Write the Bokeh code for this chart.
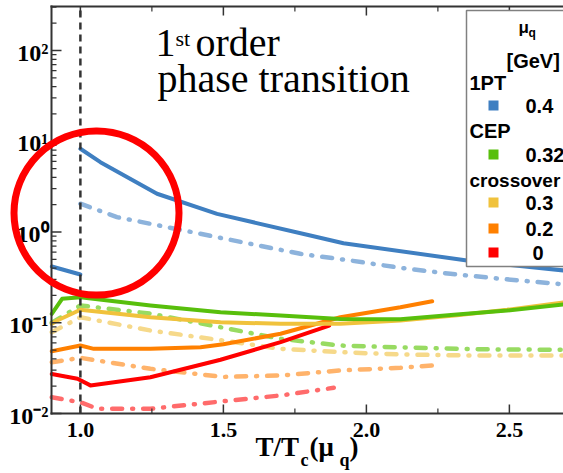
import math
from bokeh.plotting import figure
from bokeh.models import Range1d, Label, BoxAnnotation
from bokeh.core.properties import value
from bokeh.embed import file_html
from bokeh.resources import INLINE

W, H = 563, 473

# ---------------- data ----------------
x_ticks = [1.0, 1.5, 2.0, 2.5]
x_minor_ticks = [1.25, 1.75, 2.25]
x_tick_labels = ["1.0", "1.5", "2.0", "2.5"]
y_ticks = [0.01, 0.1, 1, 10, 100]
y_tick_labels = ["10⁻²", "10⁻¹", "10⁰", "10¹", "10²"]

# 1PT, mu_q = 0.4 GeV
blue_below_x = [0.90, 1.0]
blue_below_y = [0.417, 0.34]
blue_solid_x = [1.0, 1.07, 1.268, 1.478, 1.804, 1.92, 2.352, 2.69]
blue_solid_y = [8.26, 5.88, 2.64, 1.585, 0.914, 0.753, 0.485, 0.377]
blue_dd_x = [1.0, 1.128, 1.361, 1.594, 1.769, 1.944, 2.119, 2.294, 2.469, 2.69]
blue_dd_y = [2.05, 1.46, 1.04, 0.741, 0.575, 0.485, 0.403, 0.346, 0.305, 0.265]

# CEP, mu_q = 0.32 GeV
green_solid_x = [0.90, 0.936, 1.0, 1.245, 1.49, 1.70, 1.909, 2.119, 2.317, 2.492, 2.69]
green_solid_y = [0.1256, 0.1836, 0.191, 0.155, 0.1306, 0.120, 0.110, 0.109, 0.1235, 0.1365, 0.159]
green_dd_x = [0.90, 1.0, 1.245, 1.49, 1.70, 1.909, 2.119, 2.40, 2.69]
green_dd_y = [0.100, 0.155, 0.126, 0.0893, 0.0665, 0.0561, 0.0535, 0.051, 0.0503]

# crossover, mu_q = 0.3 GeV
yellow_solid_x = [0.90, 0.919, 1.0, 1.245, 1.49, 1.70, 1.909, 2.119, 2.317, 2.492, 2.69]
yellow_solid_y = [0.0973, 0.106, 0.139, 0.115, 0.1014, 0.0973, 0.0973, 0.106, 0.121, 0.139, 0.168]
yellow_dd_x = [0.90, 1.0, 1.245, 1.50, 1.70, 1.909, 2.119, 2.40, 2.69]
yellow_dd_y = [0.0787, 0.115, 0.0822, 0.0637, 0.0516, 0.0474, 0.0447, 0.0435, 0.0437]

# crossover, mu_q = 0.2 GeV
orange_solid_x = [0.90, 1.0, 1.047, 1.245, 1.42, 1.50, 1.70, 1.909, 2.119, 2.23]
orange_solid_y = [0.0485, 0.0561, 0.0516, 0.0516, 0.0538, 0.058, 0.0756, 0.115, 0.148, 0.1727]
orange_dd_x = [0.90, 1.0, 1.245, 1.50, 1.70, 1.909, 2.119, 2.23]
orange_dd_y = [0.0367, 0.0411, 0.0311, 0.0253, 0.0262, 0.0298, 0.0319, 0.0338]

# crossover, mu_q = 0 GeV
red_solid_x = [0.90, 0.99, 1.035, 1.245, 1.49, 1.70, 1.87]
red_solid_y = [0.0273, 0.0241, 0.0204, 0.0251, 0.0391, 0.0611, 0.093]
red_dd_x = [0.90, 1.0, 1.06, 1.245, 1.524, 1.70, 1.886]
red_dd_y = [0.0151, 0.0133, 0.01127, 0.01127, 0.0139, 0.0158, 0.0192]

legend_groups = ["1PT", "CEP", "crossover"]
legend_values = ["0.4", "0.32", "0.3", "0.2", "0"]
T_c_location = 1.0

# axis extents (data units)
AX_X0, AX_Y0, AX_Y1 = 0.899, 0.01, 305.0

# ---------------- geometry & styles ----------------
PX_PER_X = 286.0          # pixels per unit of T/Tc
PX_PER_DEC = 90.75        # pixels per decade
AX_LEFT_PX, AX_BOTTOM_PX = 51, 413
X0 = AX_X0 - AX_LEFT_PX / PX_PER_X
X1 = AX_X0 + (W - AX_LEFT_PX) / PX_PER_X
Y0 = AX_Y0 * 10 ** (-(H - AX_BOTTOM_PX) / PX_PER_DEC)
Y1 = AX_Y0 * 10 ** (AX_BOTTOM_PX / PX_PER_DEC)

C_AX = "#333333"
C_BLUE, C_BLUE_L = "#3f7fc1", "#8db3dc"
C_GREEN, C_GREEN_L = "#58bf0c", "#98db62"
C_YEL, C_YEL_L = "#f0c23c", "#f6d98a"
C_ORA, C_ORA_L = "#ff8000", "#ffb36b"
C_RED, C_RED_L = "#ff0000", "#ff6b6b"
DD = "10 10 1 10"
SERIF = "Liberation Serif"
SANS = "Liberation Sans"

p = figure(width=W, height=H, x_range=Range1d(X0, X1), y_range=Range1d(Y0, Y1),
           y_axis_type="log", x_axis_location=None, y_axis_location=None,
           output_backend="svg", toolbar_location=None,
           min_border=0, min_border_left=0, min_border_right=0,
           min_border_top=0, min_border_bottom=0)
p.grid.visible = False
p.outline_line_color = None
p.background_fill_color = "white"
p.border_fill_color = "white"

# ---------------- curves ----------------
def solid(x, y, c):
    p.line(x, y, line_color=c, line_width=4, line_join="round", line_cap="round")

def dashdot(x, y, c):
    p.line(x, y, line_color=c, line_width=4.5, line_dash=DD, line_join="round", line_cap="round")

dashdot(red_dd_x, red_dd_y, C_RED_L)
dashdot(orange_dd_x, orange_dd_y, C_ORA_L)
dashdot(yellow_dd_x, yellow_dd_y, C_YEL_L)
dashdot(green_dd_x, green_dd_y, C_GREEN_L)
dashdot(blue_dd_x, blue_dd_y, C_BLUE_L)
solid(red_solid_x, red_solid_y, C_RED)
solid(orange_solid_x, orange_solid_y, C_ORA)
solid(yellow_solid_x, yellow_solid_y, C_YEL)
solid(green_solid_x, green_solid_y, C_GREEN)
solid(blue_below_x, blue_below_y, C_BLUE)
solid(blue_solid_x, blue_solid_y, C_BLUE)

# T = Tc dashed line
p.segment(x0=[T_c_location], y0=[AX_Y0], x1=[T_c_location], y1=[AX_Y1],
          line_color=C_AX, line_width=2.5, line_dash="7 5")

# ---------------- axes (drawn on the plot scales) ----------------
p.segment(x0=[AX_X0, AX_X0, AX_X0], y0=[AX_Y0, AX_Y0, AX_Y1],
          x1=[AX_X0, X1, X1], y1=[AX_Y1, AX_Y0, AX_Y1],
          line_color=C_AX, line_width=2, line_cap="square")

def ticks(xs, ys, length, angle, width):
    p.ray(x=xs, y=ys, length=length, angle=angle, length_units="screen",
          line_color=C_AX, line_width=width)

n_x, n_xm = len(x_ticks), len(x_minor_ticks)
ticks(x_ticks, [AX_Y0] * n_x, 9, math.pi / 2, 1.5)
ticks(x_minor_ticks, [AX_Y0] * n_xm, 5, math.pi / 2, 1.2)
ticks(x_ticks, [AX_Y1] * n_x, 9, -math.pi / 2, 1.5)
ticks(x_minor_ticks, [AX_Y1] * n_xm, 5, -math.pi / 2, 1.2)
minor_y = [k * 10.0 ** d for d in range(-2, 3) for k in range(2, 10) if k * 10.0 ** d <= AX_Y1]
ticks([AX_X0] * len(y_ticks), y_ticks, 10, 0.0, 1.5)
ticks([AX_X0] * len(minor_y), minor_y, 5, 0.0, 1.2)

p.text(x=x_ticks, y=[AX_Y0] * n_x, text=x_tick_labels, text_align="center",
       text_baseline="middle", y_offset=16, text_font=value(SERIF),
       text_font_style="bold", text_font_size=value("22px"), text_color="black")
p.text(x=[AX_X0] * len(y_ticks), y=y_ticks, text=y_tick_labels, text_align="right",
       text_baseline="middle", x_offset=-3, y_offset=2, text_font=value(SERIF),
       text_font_style="bold", text_font_size=value("24px"), text_color="black")

# ---------------- helpers (pixel from canvas top-left -> frame screen units) ----------------
def sx(px):
    return px

def sy(py):
    return H - py

def lab(text, px, py, size, font=SANS, style="bold", align="left", baseline="middle"):
    if baseline == "alphabetic":
        py = py - 0.37 * size
    p.add_layout(Label(x=sx(px), y=sy(py), x_units="screen", y_units="screen", text=text,
                       text_font=font, text_font_style=style, text_font_size=f"{size}px",
                       text_color="black", text_align=align, text_baseline=baseline))

def box(l, r, t, b, **kw):
    p.add_layout(BoxAnnotation(left=sx(l), right=sx(r), top=sy(t), bottom=sy(b),
                               left_units="screen", right_units="screen",
                               top_units="screen", bottom_units="screen", **kw))

# x axis title  T/T_c(mu_q)
lab("T/T", 255, 456.5, 27, SERIF, baseline="alphabetic")
lab("c", 300, 466.5, 18, SERIF, baseline="alphabetic")
lab("(μ", 309, 456.5, 27, SERIF, baseline="alphabetic")
lab("q", 339, 466, 18, SERIF, baseline="alphabetic")
lab(")", 349, 456.5, 27, SERIF, baseline="alphabetic")

# annotation text
lab("1", 155, 57, 40, SERIF, "normal", baseline="alphabetic")
lab("st", 175, 46, 22, SERIF, "normal", baseline="alphabetic")
lab("order", 195, 57, 40, SERIF, "normal", baseline="alphabetic")
lab("phase transition", 157, 93, 40, SERIF, "normal", baseline="alphabetic")

# ---------------- legend ----------------
box(466, 600, 10, 266, fill_color="white", fill_alpha=1.0,
    line_color="#808080", line_alpha=1.0, line_width=1.5)
lab("μ", 518, 27, 17)
lab("q", 528, 32, 12)
lab("[GeV]", 506, 60, 20)
group_rows = [82, 130, 180]
group_sizes = [20, 20, 19]
for g, yy, fs in zip(legend_groups, group_rows, group_sizes):
    lab(g, 469, yy, fs)
value_rows = [105, 154, 202, 228, 252]
value_cols = [C_BLUE, C_GREEN, C_YEL, C_ORA, C_RED]
value_x = [525, 525, 525, 525, 532]
for v, yy, c, xx in zip(legend_values, value_rows, value_cols, value_x):
    box(488, 498, yy - 5, yy + 5, fill_color=c, fill_alpha=1.0, line_color=None)
    lab(v, xx, yy, 20)

# ---------------- red highlight circle ----------------
box(13.5, 178.5, 130.5, 294.5, border_radius=83, fill_color=None, fill_alpha=0,
    line_color="#ff0000", line_alpha=1.0, line_width=7)

open("out.html", "w").write(file_html(p, INLINE))
